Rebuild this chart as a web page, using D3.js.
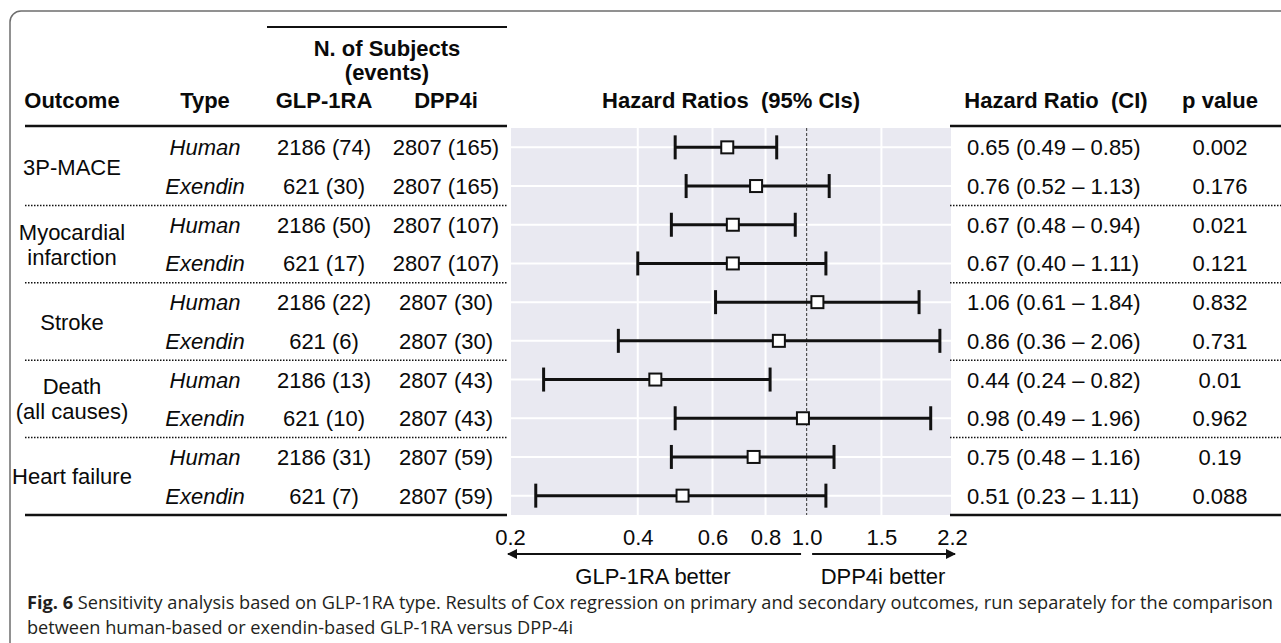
<!DOCTYPE html>
<html>
<head>
<meta charset="utf-8">
<script src="https://cdn.jsdelivr.net/npm/d3@7"></script>
<style>
  body { margin: 0; background: #fff; }
  svg { display: block; }
</style>
</head>
<body>
<div id="chart"></div>
<script>
// data
const outcomes = ["3P-MACE", "Myocardial\ninfarction", "Stroke", "Death\n(all causes)", "Heart failure"];
const types = ["Human", "Exendin", "Human", "Exendin", "Human", "Exendin", "Human", "Exendin", "Human", "Exendin"];
const glpN = ["2186 (74)", "621 (30)", "2186 (50)", "621 (17)", "2186 (22)", "621 (6)", "2186 (13)", "621 (10)", "2186 (31)", "621 (7)"];
const dppN = ["2807 (165)", "2807 (165)", "2807 (107)", "2807 (107)", "2807 (30)", "2807 (30)", "2807 (43)", "2807 (43)", "2807 (59)", "2807 (59)"];
const hr = [0.65, 0.76, 0.67, 0.67, 1.06, 0.86, 0.44, 0.98, 0.75, 0.51];
const lo = [0.49, 0.52, 0.48, 0.40, 0.61, 0.36, 0.24, 0.49, 0.48, 0.23];
const hi = [0.85, 1.13, 0.94, 1.11, 1.84, 2.06, 0.82, 1.96, 1.16, 1.11];
const pVals = ["0.002", "0.176", "0.021", "0.121", "0.832", "0.731", "0.01", "0.962", "0.19", "0.088"];
const tickVals = [0.2, 0.4, 0.6, 0.8, 1.0, 1.5, 2.2];
const tickLabels = ["0.2", "0.4", "0.6", "0.8", "1.0", "1.5", "2.2"];

const W = 1281, H = 643;
const font = "'Liberation Sans', Arial, sans-serif";
const fs = 22;
const ink = "#0a0a0a";

const svg = d3.select("#chart").append("svg")
  .attr("width", W).attr("height", H)
  .style("font-family", font);

// outer frame
svg.append("rect")
  .attr("x", 10).attr("y", 11)
  .attr("width", W + 40).attr("height", H + 40)
  .attr("rx", 11)
  .attr("fill", "none")
  .attr("stroke", "#6d6d6d")
  .attr("stroke-width", 1.5);

const x = d3.scaleLog().domain([0.2, 2.2]).range([510, 952]);
const rows = d3.range(hr.length);
const y = d3.scaleBand().domain(rows).range([128, 515]);
const yc = i => y(i) + y.bandwidth() / 2;

// plot panel
const panel = svg.append("g");
panel.append("rect")
  .attr("x", x(0.2)).attr("y", y.range()[0])
  .attr("width", x(2.2) - x(0.2))
  .attr("height", y.range()[1] - y.range()[0])
  .attr("fill", "#e9e9f1");

panel.selectAll(".vgrid")
  .data(tickVals.filter(t => t !== 1.0))
  .join("line")
  .attr("x1", d => x(d)).attr("x2", d => x(d))
  .attr("y1", y.range()[0]).attr("y2", y.range()[1])
  .attr("stroke", "#fff").attr("stroke-width", 2);

panel.selectAll(".hgrid")
  .data(rows)
  .join("line")
  .attr("x1", x(0.2)).attr("x2", x(2.2))
  .attr("y1", d => yc(d)).attr("y2", d => yc(d))
  .attr("stroke", "#fff").attr("stroke-width", 2);

panel.append("line")
  .attr("x1", x(1)).attr("x2", x(1))
  .attr("y1", y.range()[0]).attr("y2", y.range()[1])
  .attr("stroke", "#333").attr("stroke-width", 1)
  .attr("stroke-dasharray", "3,2");

// CI whiskers
const ci = panel.selectAll(".ci").data(rows).join("g");
ci.append("line")
  .attr("x1", d => x(lo[d])).attr("x2", d => x(hi[d]))
  .attr("y1", d => yc(d)).attr("y2", d => yc(d))
  .attr("stroke", "#111").attr("stroke-width", 3);
ci.append("line")
  .attr("x1", d => x(lo[d])).attr("x2", d => x(lo[d]))
  .attr("y1", d => yc(d) - 12).attr("y2", d => yc(d) + 12)
  .attr("stroke", "#111").attr("stroke-width", 3);
ci.append("line")
  .attr("x1", d => x(hi[d])).attr("x2", d => x(hi[d]))
  .attr("y1", d => yc(d) - 12).attr("y2", d => yc(d) + 12)
  .attr("stroke", "#111").attr("stroke-width", 3);
ci.append("rect")
  .attr("x", d => x(hr[d]) - 6).attr("y", d => yc(d) - 6)
  .attr("width", 12).attr("height", 12)
  .attr("fill", "#fff").attr("stroke", "#111").attr("stroke-width", 2);

// x axis labels (no axis line)
svg.append("g")
  .attr("transform", "translate(0,545)")
  .call(d3.axisBottom(x).tickValues(tickVals).tickFormat((d, i) => tickLabels[i]).tickSize(0))
  .call(g => g.select(".domain").remove())
  .selectAll("text")
  .attr("y", 0).attr("dy", 0)
  .style("font-family", font)
  .style("font-size", fs + "px")
  .attr("fill", ink);

// arrows
const defs = svg.append("defs");
defs.append("marker")
  .attr("id", "arr")
  .attr("viewBox", "0 0 10 10")
  .attr("refX", 9).attr("refY", 5)
  .attr("markerWidth", 6).attr("markerHeight", 5)
  .attr("markerUnits", "strokeWidth")
  .attr("orient", "auto")
  .append("path").attr("d", "M0,0L10,5L0,10Z").attr("fill", "#111");

svg.append("line")
  .attr("x1", x(0.97)).attr("x2", x(0.2) - 2)
  .attr("y1", 554).attr("y2", 554)
  .attr("stroke", "#111").attr("stroke-width", 2)
  .attr("marker-end", "url(#arr)");
svg.append("line")
  .attr("x1", x(1.03)).attr("x2", x(2.2) + 3)
  .attr("y1", 554).attr("y2", 554)
  .attr("stroke", "#111").attr("stroke-width", 2)
  .attr("marker-end", "url(#arr)");

svg.append("text")
  .attr("x", 653).attr("y", 584)
  .attr("text-anchor", "middle")
  .style("font-size", fs + "px").attr("fill", ink)
  .text("GLP-1RA better");
svg.append("text")
  .attr("x", 883).attr("y", 584)
  .attr("text-anchor", "middle")
  .style("font-size", fs + "px").attr("fill", ink)
  .text("DPP4i better");

// table columns
const col = { outcome: 72, type: 205, glp: 324, dpp: 446, hrText: 967, p: 1220 };
const base = 8;

svg.append("line")
  .attr("x1", 267).attr("x2", 507).attr("y1", 27).attr("y2", 27)
  .attr("stroke", "#111").attr("stroke-width", 2);
svg.append("text")
  .attr("x", 387).attr("y", 56).attr("text-anchor", "middle")
  .style("font-size", fs + "px").style("font-weight", "bold").attr("fill", ink)
  .text("N. of Subjects");
svg.append("text")
  .attr("x", 387).attr("y", 80).attr("text-anchor", "middle")
  .style("font-size", fs + "px").style("font-weight", "bold").attr("fill", ink)
  .text("(events)");

const headers = [
  ["Outcome", col.outcome], ["Type", col.type], ["GLP-1RA", col.glp], ["DPP4i", col.dpp],
  ["Hazard Ratios  (95% CIs)", 731], ["Hazard Ratio  (CI)", 1056], ["p value", col.p]
];
svg.selectAll(".hdr").data(headers).join("text")
  .attr("x", d => d[1]).attr("y", 108)
  .attr("text-anchor", "middle")
  .style("font-size", fs + "px").style("font-weight", "bold")
  .style("white-space", "pre")
  .attr("fill", ink)
  .text(d => d[0]);

// solid rules
[126, 515].forEach(yy => {
  svg.append("line").attr("x1", 25).attr("x2", 507).attr("y1", yy).attr("y2", yy)
    .attr("stroke", "#111").attr("stroke-width", 2.5);
  svg.append("line").attr("x1", 950).attr("x2", W).attr("y1", yy).attr("y2", yy)
    .attr("stroke", "#111").attr("stroke-width", 2.5);
});

// dotted group separators
d3.range(1, outcomes.length).forEach(k => {
  const yy = y(k * 2);
  svg.append("line").attr("x1", 25).attr("x2", 507).attr("y1", yy).attr("y2", yy)
    .attr("stroke", "#111").attr("stroke-width", 1.5).attr("stroke-dasharray", "1.5,1.5");
  svg.append("line").attr("x1", 950).attr("x2", W).attr("y1", yy).attr("y2", yy)
    .attr("stroke", "#111").attr("stroke-width", 1.5).attr("stroke-dasharray", "1.5,1.5");
});

// outcome labels
outcomes.forEach((o, k) => {
  const lines = o.split("\n");
  const mid = y(k * 2 + 1);
  const t = svg.append("text")
    .attr("x", col.outcome)
    .attr("text-anchor", "middle")
    .style("font-size", fs + "px").attr("fill", ink);
  lines.forEach((ln, j) => {
    t.append("tspan")
      .attr("x", col.outcome)
      .attr("y", mid + base + (j - (lines.length - 1) / 2) * 25)
      .text(ln);
  });
});

const cells = (vals, cx, anchor, style) => {
  svg.append("g").selectAll("text").data(vals).join("text")
    .attr("x", cx).attr("y", (d, i) => yc(i) + base)
    .attr("text-anchor", anchor)
    .style("font-size", fs + "px")
    .style("font-style", style || "normal")
    .attr("fill", ink)
    .text(d => d);
};
cells(types, col.type, "middle", "italic");
cells(glpN, col.glp, "middle");
cells(dppN, col.dpp, "middle");
cells(rows.map(i => `${hr[i].toFixed(2)} (${lo[i].toFixed(2)} – ${hi[i].toFixed(2)})`), col.hrText, "start");
cells(pVals, col.p, "middle");

// caption: squeeze both lines by the same factor so line 1 spans the frame
const capFont = "'Open Sans', sans-serif";
const cap = svg.append("text")
  .attr("x", 27).attr("y", 609)
  .style("font-family", capFont)
  .style("font-size", "18px").attr("fill", "#231f20");
cap.append("tspan").style("font-weight", "bold").text("Fig. 6");
cap.append("tspan").text("  Sensitivity analysis based on GLP-1RA type. Results of Cox regression on primary and secondary outcomes, run separately for the comparison");
const cap2 = svg.append("text")
  .attr("x", 27).attr("y", 634)
  .style("font-family", capFont)
  .style("font-size", "18px").attr("fill", "#231f20")
  .text("between human-based or exendin-based GLP-1RA versus DPP-4i");

const k = 1246 / cap.node().getComputedTextLength();
cap.attr("textLength", 1246).attr("lengthAdjust", "spacingAndGlyphs");
cap2.attr("textLength", cap2.node().getComputedTextLength() * k).attr("lengthAdjust", "spacingAndGlyphs");
</script>
</body>
</html>
